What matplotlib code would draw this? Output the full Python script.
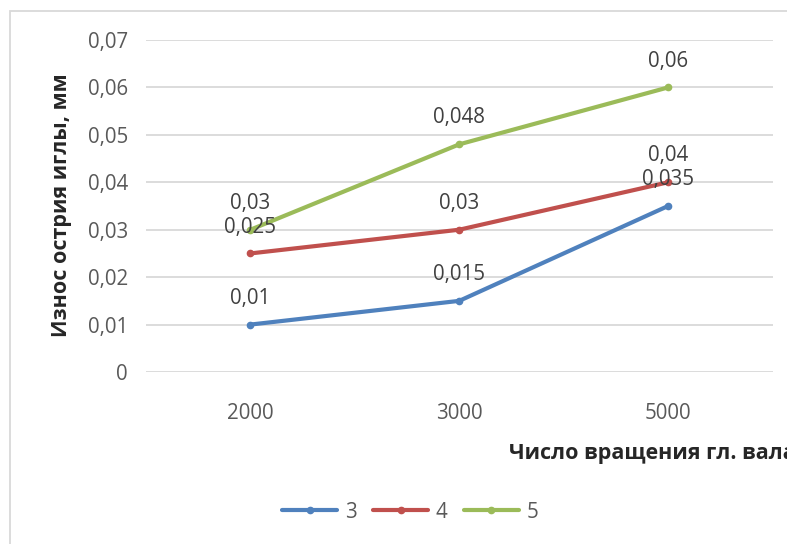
import matplotlib
matplotlib.use("Agg")
import matplotlib.pyplot as plt
from matplotlib.patches import Rectangle

# rotation speed categories and needle tip wear per series
speeds = ["2000", "3000", "5000"]
series_names = ["3", "4", "5"]
wear_3 = [0.01, 0.015, 0.035]
wear_4 = [0.025, 0.03, 0.04]
wear_5 = [0.03, 0.048, 0.06]
colors = ["#4f81bd", "#c0504d", "#9bbb59"]
y_ticks = [0, 0.01, 0.02, 0.03, 0.04, 0.05, 0.06, 0.07]

plt.rcParams["font.family"] = ["Open Sans", "DejaVu Sans"]
W, H = 787, 544
FS = 14.8
fig = plt.figure(figsize=(W / 100, H / 100), dpi=100)
ax = fig.add_axes([146 / W, 1 - 372 / H, (772.5 - 146) / W, (372 - 40) / H])


def comma(v):
    return f"{v:g}".replace(".", ",")


x = range(len(speeds))
for name, vals, c in zip(series_names, [wear_3, wear_4, wear_5], colors):
    ax.plot(x, vals, color=c, lw=3, marker="o", ms=4.5, label=name,
            solid_capstyle="round", zorder=3)
    for xi, v in zip(x, vals):
        ax.annotate(comma(v), (xi, v), xytext=(0, 19), textcoords="offset points",
                    ha="center", va="center", fontsize=FS, color="#404040", zorder=4)

ax.set_xlim(-0.5, len(speeds) - 0.5)
ax.set_ylim(0, 0.07)
ax.set_xticks(list(x))
ax.set_xticklabels(speeds)
ax.set_yticks(y_ticks)
ax.set_yticklabels([comma(v) for v in y_ticks])
ax.tick_params(length=0, labelsize=FS, labelcolor="#595959")
ax.tick_params(axis="x", pad=22)
ax.tick_params(axis="y", pad=13)
ax.grid(axis="y", color="#d9d9d9", lw=1.3)
ax.set_axisbelow(True)
for s in ax.spines.values():
    s.set_visible(False)

fig.text(62 / W, 1 - 205 / H, "Износ острия иглы, мм", rotation=90, ha="center",
         va="center", fontsize=15.5, fontweight="bold", color="#262626")
fig.text(509 / W, 1 - 453 / H, "Число вращения гл. вала", ha="left", va="center",
         fontsize=15.5, fontweight="bold", color="#262626")

fig.legend(loc="center", bbox_to_anchor=(410 / W, 1 - 512 / H), ncol=3, frameon=False,
           fontsize=FS, labelcolor="#595959", handlelength=2.7, handletextpad=0.35,
           columnspacing=0.8, numpoints=1)

fig.add_artist(Rectangle((10 / W, -0.02), 1.0, 1 - 10.5 / H + 0.02, transform=fig.transFigure,
                         fill=False, edgecolor="#d9d9d9", lw=1.3, clip_on=False))

fig.savefig("out.png", dpi=100)
